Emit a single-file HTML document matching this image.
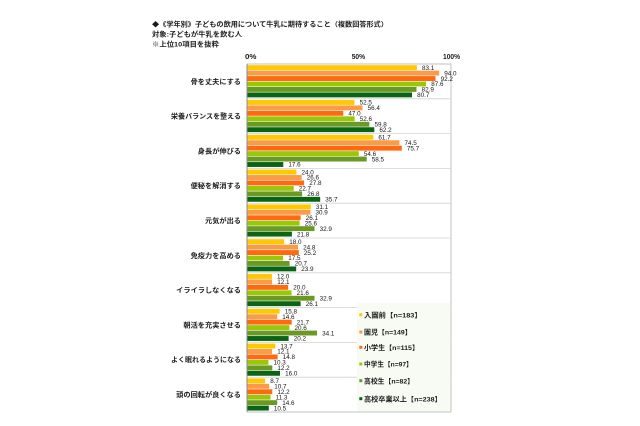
<!DOCTYPE html>
<html><head><meta charset="utf-8"><style>
html,body{margin:0;padding:0;background:#fff;}
svg{display:block;}
.jp{font-family:"Liberation Sans","Noto Sans CJK JP",sans-serif;font-weight:bold;fill:#1a1a1a;}
.v{font-family:"Liberation Sans",sans-serif;font-size:6.3px;fill:#151515;}
</style></head><body>
<svg width="640" height="426" viewBox="0 0 640 426" xmlns="http://www.w3.org/2000/svg">
<rect width="640" height="426" fill="#fff"/>
<!-- title -->
<text class="jp" x="152" y="26.6" font-size="6.6" textLength="236" lengthAdjust="spacingAndGlyphs">◆《学年別》子どもの飲用について牛乳に期待すること（複数回答形式）</text>
<text class="jp" x="152" y="36.6" font-size="6.6" textLength="90" lengthAdjust="spacingAndGlyphs">対象:子どもが牛乳を飲む人</text>
<text class="jp" x="152" y="46.6" font-size="6.6" textLength="67" lengthAdjust="spacingAndGlyphs">※上位10項目を抜粋</text>
<!-- axis labels -->
<text class="jp" x="245" y="59" font-size="7" textLength="11.5" lengthAdjust="spacingAndGlyphs">0%</text>
<text class="jp" x="351.7" y="59" font-size="7" textLength="13.3" lengthAdjust="spacingAndGlyphs">50%</text>
<text class="jp" x="443" y="59" font-size="7" textLength="17" lengthAdjust="spacingAndGlyphs">100%</text>
<!-- plot frame -->
<rect x="247" y="64" width="204" height="348" fill="#fff" stroke="#b4b4b4" stroke-width="0.8"/>
<g stroke="#d2d2d2" stroke-width="0.8">
<line x1="247" y1="98.8" x2="451" y2="98.8"/>
<line x1="247" y1="133.6" x2="451" y2="133.6"/>
<line x1="247" y1="168.4" x2="451" y2="168.4"/>
<line x1="247" y1="203.2" x2="451" y2="203.2"/>
<line x1="247" y1="238" x2="451" y2="238"/>
<line x1="247" y1="272.8" x2="451" y2="272.8"/>
<line x1="247" y1="307.6" x2="451" y2="307.6"/>
<line x1="247" y1="342.4" x2="451" y2="342.4"/>
<line x1="247" y1="377.2" x2="451" y2="377.2"/>
</g>
<!-- legend background -->
<rect x="357" y="303" width="93.5" height="108.5" fill="#f7fbf3"/>
<!-- category labels -->
<g class="jp" font-size="6.6" text-anchor="end">
<text x="241" y="83.8" textLength="50.4" lengthAdjust="spacingAndGlyphs">骨を丈夫にする</text>
<text x="241" y="118.6" textLength="70" lengthAdjust="spacingAndGlyphs">栄養バランスを整える</text>
<text x="241" y="153.4" textLength="43.2" lengthAdjust="spacingAndGlyphs">身長が伸びる</text>
<text x="241" y="188.2" textLength="50.4" lengthAdjust="spacingAndGlyphs">便秘を解消する</text>
<text x="241" y="223" textLength="36" lengthAdjust="spacingAndGlyphs">元気が出る</text>
<text x="241" y="257.8" textLength="50.4" lengthAdjust="spacingAndGlyphs">免疫力を高める</text>
<text x="241" y="292.6" textLength="64.8" lengthAdjust="spacingAndGlyphs">イライラしなくなる</text>
<text x="241" y="327.4" textLength="57.6" lengthAdjust="spacingAndGlyphs">朝活を充実させる</text>
<text x="241" y="362.2" textLength="70" lengthAdjust="spacingAndGlyphs">よく眠れるようになる</text>
<text x="241" y="397" textLength="64.8" lengthAdjust="spacingAndGlyphs">頭の回転が良くなる</text>
</g>
<!-- bars: groups -->
<defs></defs>
<!-- G1 -->
<g transform="translate(0,64)">
<rect x="247.4" y="1.2" width="169.5" height="4.9" fill="#FFC800"/>
<rect x="247.4" y="6.65" width="191.8" height="4.9" fill="#F99B48"/>
<rect x="247.4" y="12.1" width="188.1" height="4.9" fill="#FF6A10"/>
<rect x="247.4" y="17.55" width="178.7" height="4.9" fill="#99C80A"/>
<rect x="247.4" y="23" width="169.1" height="4.9" fill="#6B9A24"/>
<rect x="247.4" y="28.45" width="164.6" height="4.9" fill="#0B6414"/>
<text class="v" x="422" y="5.9">83.1</text>
<text class="v" x="444.3" y="11.3">94.0</text>
<text class="v" x="440.6" y="16.8">92.2</text>
<text class="v" x="431.2" y="22.2">87.6</text>
<text class="v" x="421.6" y="27.7">82.9</text>
<text class="v" x="417.1" y="33.1">80.7</text>
</g>
<!-- G2 -->
<g transform="translate(0,98.8)">
<rect x="247.4" y="1.2" width="107.1" height="4.9" fill="#FFC800"/>
<rect x="247.4" y="6.65" width="115.1" height="4.9" fill="#F99B48"/>
<rect x="247.4" y="12.1" width="95.9" height="4.9" fill="#FF6A10"/>
<rect x="247.4" y="17.55" width="107.3" height="4.9" fill="#99C80A"/>
<rect x="247.4" y="23" width="122" height="4.9" fill="#6B9A24"/>
<rect x="247.4" y="28.45" width="126.9" height="4.9" fill="#0B6414"/>
<text class="v" x="359.6" y="5.9">52.5</text>
<text class="v" x="367.6" y="11.3">56.4</text>
<text class="v" x="348.4" y="16.8">47.0</text>
<text class="v" x="359.8" y="22.2">52.6</text>
<text class="v" x="374.5" y="27.7">59.8</text>
<text class="v" x="379.4" y="33.1">62.2</text>
</g>
<!-- G3 -->
<g transform="translate(0,133.6)">
<rect x="247.4" y="1.2" width="125.9" height="4.9" fill="#FFC800"/>
<rect x="247.4" y="6.65" width="152" height="4.9" fill="#F99B48"/>
<rect x="247.4" y="12.1" width="154.4" height="4.9" fill="#FF6A10"/>
<rect x="247.4" y="17.55" width="111.4" height="4.9" fill="#99C80A"/>
<rect x="247.4" y="23" width="119.3" height="4.9" fill="#6B9A24"/>
<rect x="247.4" y="28.45" width="35.9" height="4.9" fill="#0B6414"/>
<text class="v" x="378.4" y="5.9">61.7</text>
<text class="v" x="404.5" y="11.3">74.5</text>
<text class="v" x="406.9" y="16.8">75.7</text>
<text class="v" x="363.9" y="22.2">54.6</text>
<text class="v" x="371.8" y="27.7">58.5</text>
<text class="v" x="288.4" y="33.1">17.6</text>
</g>
<!-- G4 -->
<g transform="translate(0,168.4)">
<rect x="247.4" y="1.2" width="49" height="4.9" fill="#FFC800"/>
<rect x="247.4" y="6.65" width="54.3" height="4.9" fill="#F99B48"/>
<rect x="247.4" y="12.1" width="56.7" height="4.9" fill="#FF6A10"/>
<rect x="247.4" y="17.55" width="46.3" height="4.9" fill="#99C80A"/>
<rect x="247.4" y="23" width="54.7" height="4.9" fill="#6B9A24"/>
<rect x="247.4" y="28.45" width="72.8" height="4.9" fill="#0B6414"/>
<text class="v" x="301.5" y="5.9">24.0</text>
<text class="v" x="306.8" y="11.3">26.6</text>
<text class="v" x="309.2" y="16.8">27.8</text>
<text class="v" x="298.8" y="22.2">22.7</text>
<text class="v" x="307.2" y="27.7">26.8</text>
<text class="v" x="325.3" y="33.1">35.7</text>
</g>
<!-- G5 -->
<g transform="translate(0,203.2)">
<rect x="247.4" y="1.2" width="63.4" height="4.9" fill="#FFC800"/>
<rect x="247.4" y="6.65" width="63" height="4.9" fill="#F99B48"/>
<rect x="247.4" y="12.1" width="53.2" height="4.9" fill="#FF6A10"/>
<rect x="247.4" y="17.55" width="52.2" height="4.9" fill="#99C80A"/>
<rect x="247.4" y="23" width="67.1" height="4.9" fill="#6B9A24"/>
<rect x="247.4" y="28.45" width="44.5" height="4.9" fill="#0B6414"/>
<text class="v" x="315.9" y="5.9">31.1</text>
<text class="v" x="315.5" y="11.3">30.9</text>
<text class="v" x="305.7" y="16.8">26.1</text>
<text class="v" x="304.7" y="22.2">25.6</text>
<text class="v" x="319.6" y="27.7">32.9</text>
<text class="v" x="297" y="33.1">21.8</text>
</g>
<!-- G6 -->
<g transform="translate(0,238)">
<rect x="247.4" y="1.2" width="36.7" height="4.9" fill="#FFC800"/>
<rect x="247.4" y="6.65" width="50.6" height="4.9" fill="#F99B48"/>
<rect x="247.4" y="12.1" width="51.4" height="4.9" fill="#FF6A10"/>
<rect x="247.4" y="17.55" width="35.7" height="4.9" fill="#99C80A"/>
<rect x="247.4" y="23" width="42.2" height="4.9" fill="#6B9A24"/>
<rect x="247.4" y="28.45" width="48.8" height="4.9" fill="#0B6414"/>
<text class="v" x="289.2" y="5.9">18.0</text>
<text class="v" x="303.1" y="11.3">24.8</text>
<text class="v" x="303.9" y="16.8">25.2</text>
<text class="v" x="288.2" y="22.2">17.5</text>
<text class="v" x="294.7" y="27.7">20.7</text>
<text class="v" x="301.3" y="33.1">23.9</text>
</g>
<!-- G7 -->
<g transform="translate(0,272.8)">
<rect x="247.4" y="1.2" width="24.5" height="4.9" fill="#FFC800"/>
<rect x="247.4" y="6.65" width="24.7" height="4.9" fill="#F99B48"/>
<rect x="247.4" y="12.1" width="40.8" height="4.9" fill="#FF6A10"/>
<rect x="247.4" y="17.55" width="44.1" height="4.9" fill="#99C80A"/>
<rect x="247.4" y="23" width="67.1" height="4.9" fill="#6B9A24"/>
<rect x="247.4" y="28.45" width="53.2" height="4.9" fill="#0B6414"/>
<text class="v" x="277" y="5.9">12.0</text>
<text class="v" x="277.2" y="11.3">12.1</text>
<text class="v" x="293.3" y="16.8">20.0</text>
<text class="v" x="296.6" y="22.2">21.6</text>
<text class="v" x="319.6" y="27.7">32.9</text>
<text class="v" x="305.7" y="33.1">26.1</text>
</g>
<!-- G8 -->
<g transform="translate(0,307.6)">
<rect x="247.4" y="1.2" width="32.2" height="4.9" fill="#FFC800"/>
<rect x="247.4" y="6.65" width="29.8" height="4.9" fill="#F99B48"/>
<rect x="247.4" y="12.1" width="44.3" height="4.9" fill="#FF6A10"/>
<rect x="247.4" y="17.55" width="42" height="4.9" fill="#99C80A"/>
<rect x="247.4" y="23" width="69.6" height="4.9" fill="#6B9A24"/>
<rect x="247.4" y="28.45" width="41.2" height="4.9" fill="#0B6414"/>
<text class="v" x="284.7" y="5.9">15.8</text>
<text class="v" x="282.3" y="11.3">14.6</text>
<text class="v" x="296.8" y="16.8">21.7</text>
<text class="v" x="294.5" y="22.2">20.6</text>
<text class="v" x="322.1" y="27.7">34.1</text>
<text class="v" x="293.7" y="33.1">20.2</text>
</g>
<!-- G9 -->
<g transform="translate(0,342.4)">
<rect x="247.4" y="1.2" width="27.9" height="4.9" fill="#FFC800"/>
<rect x="247.4" y="6.65" width="24.7" height="4.9" fill="#F99B48"/>
<rect x="247.4" y="12.1" width="30.2" height="4.9" fill="#FF6A10"/>
<rect x="247.4" y="17.55" width="21" height="4.9" fill="#99C80A"/>
<rect x="247.4" y="23" width="24.9" height="4.9" fill="#6B9A24"/>
<rect x="247.4" y="28.45" width="32.6" height="4.9" fill="#0B6414"/>
<text class="v" x="280.4" y="5.9">13.7</text>
<text class="v" x="277.2" y="11.3">12.1</text>
<text class="v" x="282.7" y="16.8">14.8</text>
<text class="v" x="273.5" y="22.2">10.3</text>
<text class="v" x="277.4" y="27.7">12.2</text>
<text class="v" x="285.1" y="33.1">16.0</text>
</g>
<!-- G10 -->
<g transform="translate(0,377.2)">
<rect x="247.4" y="1.2" width="17.7" height="4.9" fill="#FFC800"/>
<rect x="247.4" y="6.65" width="21.8" height="4.9" fill="#F99B48"/>
<rect x="247.4" y="12.1" width="24.9" height="4.9" fill="#FF6A10"/>
<rect x="247.4" y="17.55" width="23.1" height="4.9" fill="#99C80A"/>
<rect x="247.4" y="23" width="29.8" height="4.9" fill="#6B9A24"/>
<rect x="247.4" y="28.45" width="21.4" height="4.9" fill="#0B6414"/>
<text class="v" x="270.2" y="5.9">8.7</text>
<text class="v" x="274.3" y="11.3">10.7</text>
<text class="v" x="277.4" y="16.8">12.2</text>
<text class="v" x="275.6" y="22.2">11.3</text>
<text class="v" x="282.3" y="27.7">14.6</text>
<text class="v" x="273.9" y="33.1">10.5</text>
</g>
<!-- left axis line -->
<line x1="247" y1="64" x2="247" y2="412" stroke="#8c8c8c" stroke-width="1"/>
<!-- legend -->
<g>
<rect x="359.3" y="313.2" width="3" height="3" fill="#FFC800"/>
<rect x="359.3" y="330.5" width="3" height="3" fill="#F99B48"/>
<rect x="359.3" y="345.8" width="3" height="3" fill="#FF6A10"/>
<rect x="359.3" y="362.5" width="3" height="3" fill="#99C80A"/>
<rect x="359.3" y="379.2" width="3" height="3" fill="#6B9A24"/>
<rect x="359.3" y="397.2" width="3" height="3" fill="#0B6414"/>
</g>
<g class="jp" font-size="6.8">
<text x="364" y="317.3" textLength="57.7" lengthAdjust="spacingAndGlyphs">入園前【n=183】</text>
<text x="364" y="334.6" textLength="47.7" lengthAdjust="spacingAndGlyphs">園児【n=149】</text>
<text x="364" y="349.9" textLength="55" lengthAdjust="spacingAndGlyphs">小学生【n=115】</text>
<text x="364" y="366.6" textLength="48.7" lengthAdjust="spacingAndGlyphs">中学生【n=97】</text>
<text x="364" y="383.3" textLength="50" lengthAdjust="spacingAndGlyphs">高校生【n=82】</text>
<text x="364" y="401.3" textLength="77.7" lengthAdjust="spacingAndGlyphs">高校卒業以上【n=238】</text>
</g>
</svg>
</body></html>
